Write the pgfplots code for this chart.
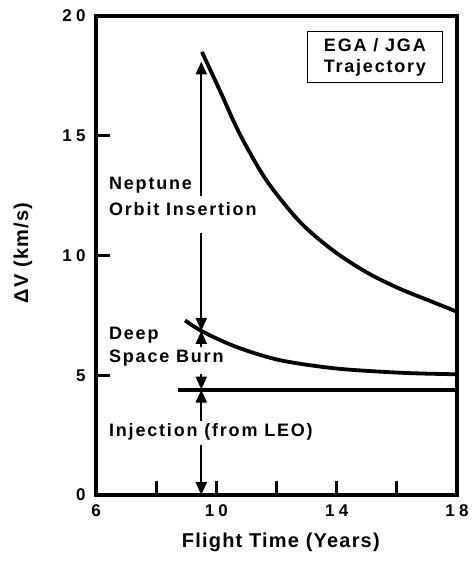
\documentclass[border=0pt]{standalone}
\usepackage{pgfplots}
\pgfplotsset{compat=1.18}
\usepackage{fontspec}
\setmainfont{Liberation Sans}
\newfontfamily\spaced{Liberation Sans}[LetterSpace=10]
\newfontfamily\digits{Liberation Sans}[LetterSpace=25]
\newfontfamily\wide{Liberation Sans}[LetterSpace=6]
\usetikzlibrary{arrows.meta}
\begin{document}
\begin{tikzpicture}[
  lbl/.style={anchor=west, font=\fontsize{18}{20}\selectfont\bfseries\spaced, inner sep=0pt},
  vec/.style={line width=2.2pt, -{Triangle[width=11pt,length=13pt]}}
]
\begin{axis}[
  scale only axis,
  width=361pt, height=479pt,
  xmin=6, xmax=18, ymin=0, ymax=20,
  xtick={6,8,10,12,14,16,18},
  xticklabels={6,,10,,14,,18},
  ytick={0,5,10,15,20},
  tick pos=left,
  tick align=inside,
  major tick length=14pt,
  every tick/.style={line width=3.2pt, black},
  axis line style={line width=4pt},
  /pgf/number format/assume math mode=true,
  ticklabel style={font=\fontsize{17}{19}\selectfont\bfseries\digits},
  xticklabel style={yshift=-6pt},
  yticklabel style={xshift=-7pt},
  xlabel={Flight Time (Years)},
  ylabel={ΔV (km/s)},
  every axis x label/.style={at={(axis description cs:0.512,-0.098)}, anchor=center,
    font=\fontsize{20}{22}\selectfont\bfseries\wide},
  every axis y label/.style={at={(axis description cs:-0.202,0.505)}, anchor=center, rotate=90,
    font=\fontsize{20}{22}\selectfont\bfseries\wide},
  clip=false,
]
% Neptune orbit insertion + deep space burn + injection (total)
\addplot[line width=3.8pt, smooth] coordinates {
  (9.52,18.5) (10.12,16.88) (10.78,15.07) (11.67,13.13) (12.78,11.4)
  (13.88,10.21) (14.99,9.30) (16.1,8.61) (17.21,8.05) (18.0,7.65)
};
% deep space burn + injection
\addplot[line width=3.8pt, smooth] coordinates {
  (8.96,7.29) (9.56,6.81) (10.67,6.18) (12.11,5.63) (14.0,5.28)
  (16.2,5.10) (18.0,5.04)
};
% injection from LEO
\addplot[line width=3.8pt] coordinates {
  (8.73,4.40) (18.0,4.40)
};
\coordinate (sw) at (rel axis cs:0,0);
\coordinate (ne) at (rel axis cs:1,1);
% arrows
\draw[vec] (axis cs:9.5,12.5) -- (axis cs:9.5,18.1);
\draw[vec] (axis cs:9.5,10.95) -- (axis cs:9.5,6.85);
\draw[vec] (axis cs:9.5,6.2) -- (axis cs:9.5,6.85);
\draw[vec] (axis cs:9.5,5.05) -- (axis cs:9.5,4.4);
\draw[vec] (axis cs:9.5,3.1) -- (axis cs:9.5,4.4);
\draw[vec] (axis cs:9.5,2.08) -- (axis cs:9.5,0);
% labels
\node[lbl] at (axis cs:6.43,12.92) {Neptune};
\node[lbl] at (axis cs:6.43,11.92) {Orbit Insertion};
\node[lbl] at (axis cs:6.43,6.67) {Deep};
\node[lbl] at (axis cs:6.43,5.71) {Space Burn};
\node[lbl] at (axis cs:6.43,2.63) {Injection (from LEO)};
\node[draw, line width=1.5pt, minimum width=135pt, minimum height=51pt,
  align=center, font=\fontsize{18}{21}\selectfont\bfseries\spaced, inner sep=2pt]
  at (axis cs:15.27,18.29) {EGA / JGA\\Trajectory};
\end{axis}
\useasboundingbox ([shift={(-96pt,-68pt)}]sw) rectangle ([shift={(16pt,16pt)}]ne);
\end{tikzpicture}
\end{document}
